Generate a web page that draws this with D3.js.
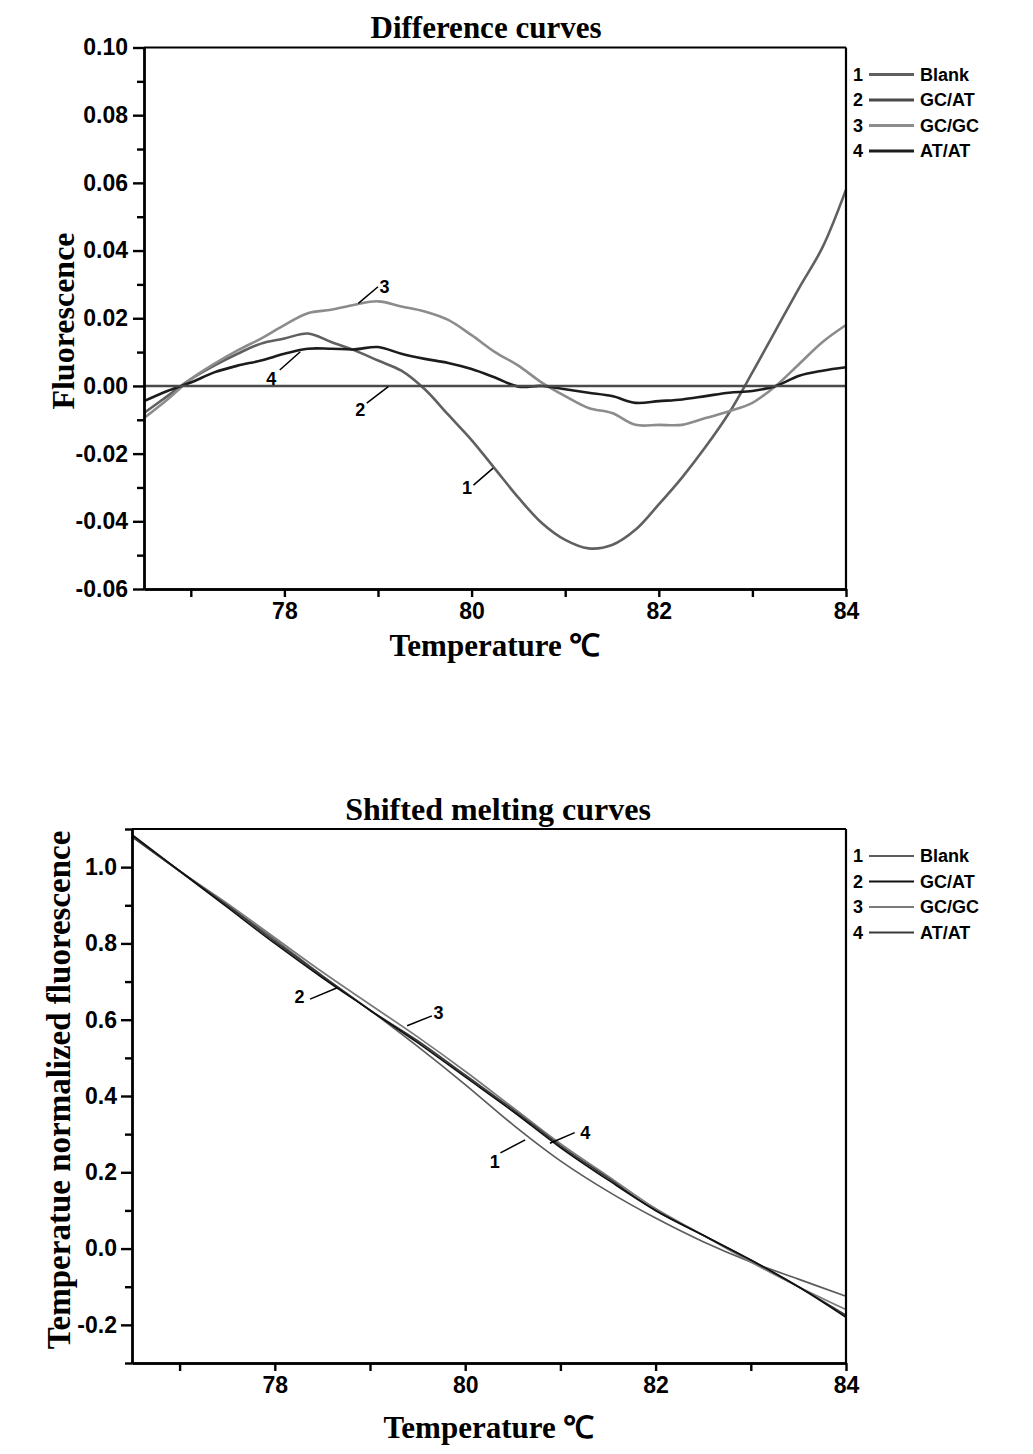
<!DOCTYPE html>
<html>
<head>
<meta charset="utf-8">
<script src="https://cdn.jsdelivr.net/npm/d3@7"></script>
<style>
  body { margin: 0; background: #fff; }
  .tick text { font-family: "Liberation Sans", Arial, sans-serif; font-weight: bold; }
  .axisTitle { font-family: "Liberation Serif", "Times New Roman", serif; font-weight: bold; }
  .note, .legendText { font-family: "Liberation Sans", Arial, sans-serif; font-weight: bold; }
</style>
</head>
<body>
<div id="chart"></div>
<script>
// series names shared by both panels
var seriesNames = ["Blank", "GC/AT", "GC/GC", "AT/AT"];
var seriesIds = ["1", "2", "3", "4"];

// Difference curves (top panel)
var diffTemps = [76.5, 76.75, 77, 77.25, 77.5, 77.75, 78, 78.25, 78.5, 78.75, 79, 79.25, 79.5, 79.75, 80,
  80.25, 80.5, 80.75, 81, 81.25, 81.5, 81.75, 82, 82.25, 82.5, 82.75, 83, 83.25, 83.5, 83.75, 84];
var diffBlank = [-0.008, -0.003, 0.002, 0.006, 0.0095, 0.0125, 0.014, 0.0155, 0.013, 0.0105, 0.0075, 0.0045, -0.001, -0.0085, -0.016,
  -0.0245, -0.033, -0.0405, -0.0455, -0.048, -0.047, -0.0425, -0.035, -0.027, -0.018, -0.008, 0.004, 0.0165, 0.029, 0.041, 0.058];
var diffGCAT = [0, 0, 0, 0, 0, 0, 0, 0, 0, 0, 0, 0, 0, 0, 0,
  0, 0, 0, 0, 0, 0, 0, 0, 0, 0, 0, 0, 0, 0, 0, 0];
var diffGCGC = [-0.0095, -0.004, 0.002, 0.0065, 0.0105, 0.014, 0.018, 0.0215, 0.0225, 0.024, 0.025, 0.0235, 0.022, 0.0195, 0.015,
  0.010, 0.006, 0.001, -0.003, -0.0065, -0.008, -0.0115, -0.0115, -0.0115, -0.0095, -0.0075, -0.005, 0.000, 0.0065, 0.013, 0.018];
var diffATAT = [-0.0045, -0.0015, 0.001, 0.004, 0.006, 0.0075, 0.0095, 0.011, 0.011, 0.0108, 0.0115, 0.0095, 0.008, 0.0068, 0.005,
  0.0025, -0.0002, 0.0, -0.001, -0.002, -0.003, -0.005, -0.0045, -0.004, -0.003, -0.002, -0.0015, 0.0, 0.003, 0.0045, 0.0055];
var diffMajorY = [-0.06, -0.04, -0.02, 0, 0.02, 0.04, 0.06, 0.08, 0.10];
var diffMinorY = [-0.05, -0.03, -0.01, 0.01, 0.03, 0.05, 0.07, 0.09];

// Shifted melting curves (bottom panel)
var meltTemps = [76.5, 77, 77.5, 78, 78.5, 79, 79.5, 80, 80.5, 81, 81.5, 82, 82.5, 83, 83.5, 84];
var meltBlank = [1.08, 0.99, 0.90, 0.81, 0.715, 0.625, 0.53, 0.43, 0.325, 0.23, 0.15, 0.08, 0.018, -0.035, -0.08, -0.125];
var meltGCAT = [1.085, 0.99, 0.895, 0.80, 0.71, 0.625, 0.54, 0.45, 0.36, 0.265, 0.18, 0.10, 0.035, -0.03, -0.10, -0.18];
var meltGCGC = [1.08, 0.99, 0.905, 0.815, 0.725, 0.64, 0.555, 0.465, 0.37, 0.275, 0.19, 0.105, 0.035, -0.035, -0.10, -0.16];
var meltATAT = [1.08, 0.99, 0.90, 0.805, 0.715, 0.625, 0.545, 0.455, 0.365, 0.27, 0.185, 0.10, 0.035, -0.03, -0.10, -0.175];
var meltMajorY = [-0.2, 0, 0.2, 0.4, 0.6, 0.8, 1.0];
var meltMinorY = [-0.3, -0.1, 0.1, 0.3, 0.5, 0.7, 0.9, 1.1];

var tempMajor = [78, 80, 82, 84];
var tempMinor = [77, 79, 81, 83];

// number callouts, in data units: leader from -> to, number at "at"
var diffNotes = [
  { id: "3", from: [78.79, 0.0244], to: [79.00, 0.0293], at: [79.07, 0.0293] },
  { id: "4", from: [77.95, 0.0047], to: [78.17, 0.0101], at: [77.86, 0.0023] },
  { id: "2", from: [78.88, -0.0051], to: [79.11, -0.0002], at: [78.81, -0.0071] },
  { id: "1", from: [80.02, -0.0293], to: [80.23, -0.0243], at: [79.95, -0.0301] }
];
var meltNotes = [
  { id: "2", from: [78.37, 0.654], to: [78.65, 0.683], at: [78.26, 0.660] },
  { id: "3", from: [79.39, 0.584], to: [79.65, 0.610], at: [79.72, 0.618] },
  { id: "4", from: [80.89, 0.276], to: [81.15, 0.304], at: [81.26, 0.304] },
  { id: "1", from: [80.37, 0.251], to: [80.63, 0.285], at: [80.31, 0.228] }
];

var svg = d3.select("#chart").append("svg")
  .attr("width", 1033)
  .attr("height", 1454)
  .style("background", "#fff");

function minusFix(f) {
  return function(d) { return f(d).replace("\u2212", "-"); };
}

function drawPanel(p) {
  var x = d3.scaleLinear().domain([76.5, 84]).range([p.left, p.right]);
  var y = d3.scaleLinear().domain(p.yDomain).range([p.bottom, p.top]);

  var g = svg.append("g");

  // lines
  var line = d3.line()
    .x(function(d) { return x(d[0]); })
    .y(function(d) { return y(d[1]); })
    .curve(d3.curveCatmullRom);

  p.order.forEach(function(i) {
    var pts = p.temps.map(function(t, k) { return [t, p.series[i][k]]; });
    g.append("path")
      .datum(pts)
      .attr("d", line)
      .attr("fill", "none")
      .attr("stroke", p.colors[i])
      .attr("stroke-width", p.lineWidth)
      .attr("stroke-linejoin", "round");
  });

  // frame top / right
  g.append("line")
    .attr("x1", x.range()[0]).attr("x2", x.range()[1])
    .attr("y1", y.range()[1]).attr("y2", y.range()[1])
    .attr("stroke", "#000").attr("stroke-width", 2.2);
  g.append("line")
    .attr("x1", x.range()[1]).attr("x2", x.range()[1])
    .attr("y1", y.range()[0]).attr("y2", y.range()[1])
    .attr("stroke", "#000").attr("stroke-width", 2.2);

  // axes
  var xAxis = d3.axisBottom(x).tickValues(tempMajor).tickSize(8).tickSizeOuter(0).tickPadding(6)
    .tickFormat(d3.format("d"));
  var xMinor = d3.axisBottom(x).tickValues(tempMinor).tickSize(8).tickSizeOuter(0).tickFormat("");
  var yAxis = d3.axisLeft(y).tickValues(p.majorY).tickSize(11).tickSizeOuter(0).tickPadding(p.yPad)
    .tickFormat(minusFix(d3.format(p.yFormat)));
  var yMinor = d3.axisLeft(y).tickValues(p.minorY).tickSize(7).tickSizeOuter(0).tickFormat("");

  [xAxis, xMinor].forEach(function(a) {
    g.append("g").attr("class", "axis")
      .attr("transform", "translate(0," + y.range()[0] + ")")
      .call(a);
  });
  [yAxis, yMinor].forEach(function(a) {
    g.append("g").attr("class", "axis")
      .attr("transform", "translate(" + x.range()[0] + ",0)")
      .call(a);
  });
  g.selectAll(".axis path, .axis line").attr("stroke", "#000").attr("stroke-width", 2.4);
  g.selectAll(".axis text").attr("font-size", "23px").attr("fill", "#000");

  // callouts
  p.notes.forEach(function(n) {
    g.append("line")
      .attr("x1", x(n.from[0])).attr("y1", y(n.from[1]))
      .attr("x2", x(n.to[0])).attr("y2", y(n.to[1]))
      .attr("stroke", "#000").attr("stroke-width", 1.5);
    g.append("text").attr("class", "note")
      .attr("x", x(n.at[0])).attr("y", y(n.at[1]))
      .attr("dy", "0.36em")
      .attr("text-anchor", "middle")
      .attr("font-size", "18px")
      .text(n.id);
  });

  // legend
  var lg = g.append("g").attr("transform", "translate(" + (x.range()[1] + 12) + "," + (y.range()[1] + 27) + ")");
  seriesNames.forEach(function(name, i) {
    var row = lg.append("g").attr("transform", "translate(0," + (i * 25.5) + ")");
    row.append("text").attr("class", "legendText").attr("x", 0).attr("dy", "0.36em")
      .attr("text-anchor", "middle").attr("font-size", "18px").text(seriesIds[i]);
    row.append("line").attr("x1", 11).attr("x2", 56).attr("y1", 0).attr("y2", 0)
      .attr("stroke", p.colors[i]).attr("stroke-width", p.legendWidth);
    row.append("text").attr("class", "legendText").attr("x", 62).attr("dy", "0.36em")
      .attr("font-size", "18px").text(name);
  });

  // titles
  g.append("text").attr("class", "axisTitle")
    .attr("x", p.titleX).attr("y", p.titleY)
    .attr("text-anchor", "middle").attr("font-size", p.titleSize)
    .text(p.title);
  g.append("text").attr("class", "axisTitle")
    .attr("x", (p.left + p.right) / 2).attr("y", p.xTitleY)
    .attr("text-anchor", "middle").attr("font-size", "31px")
    .text("Temperature \u2103");
  g.append("text").attr("class", "axisTitle")
    .attr("transform", "translate(" + p.yTitleX + "," + p.yTitleY + ") rotate(-90)")
    .attr("text-anchor", "middle").attr("font-size", p.yTitleSize)
    .text(p.yTitle);
}

drawPanel({
  left: 144, right: 846, top: 47.5, bottom: 589,
  yDomain: [-0.06, 0.10], majorY: diffMajorY, minorY: diffMinorY, yFormat: ".2f", yPad: 5,
  temps: diffTemps,
  series: [diffBlank, diffGCAT, diffGCGC, diffATAT],
  colors: ["#606060", "#4a4a4a", "#8c8c8c", "#1c1c1c"],
  order: [0, 2, 3, 1],
  lineWidth: 2.6, legendWidth: 3,
  notes: diffNotes,
  title: "Difference curves", titleX: 486, titleY: 38, titleSize: "31px",
  xTitleY: 656,
  yTitle: "Fluorescence", yTitleX: 74, yTitleY: 321, yTitleSize: "32px"
});

drawPanel({
  left: 132, right: 846, top: 829, bottom: 1363,
  yDomain: [-0.3, 1.1], majorY: meltMajorY, minorY: meltMinorY, yFormat: ".1f", yPad: 4,
  temps: meltTemps,
  series: [meltBlank, meltGCAT, meltGCGC, meltATAT],
  colors: ["#5c5c5c", "#111111", "#7a7a7a", "#3a3a3a"],
  order: [0, 2, 3, 1],
  lineWidth: 1.7, legendWidth: 2.2,
  notes: meltNotes,
  title: "Shifted melting curves", titleX: 498, titleY: 820, titleSize: "32px",
  xTitleY: 1438,
  yTitle: "Temperatue normalized fluorescence", yTitleX: 70, yTitleY: 1090, yTitleSize: "33px"
});
</script>
</body>
</html>
